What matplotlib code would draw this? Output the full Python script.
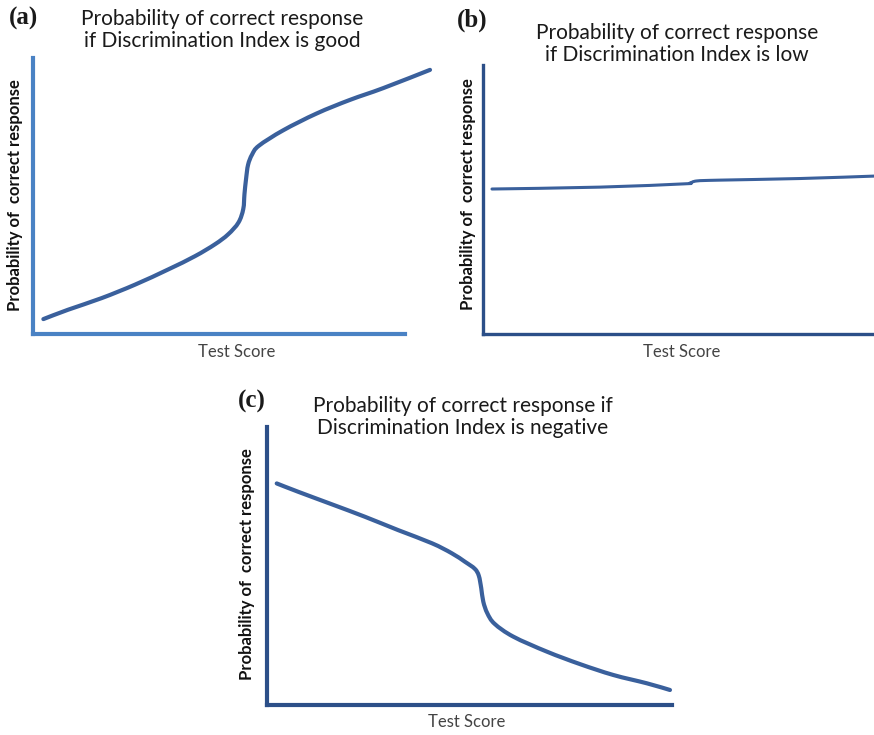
import matplotlib
matplotlib.use("Agg")
import matplotlib.pyplot as plt
from matplotlib.path import Path
from matplotlib.patches import PathPatch

W, H = 874, 735

# (a) good discrimination: test score (0-100) vs probability (0-1)
score_good = [2.6, 8.8, 17.2, 25.6, 33.9, 40.6, 45.6, 48.9, 51.5, 52.7, 53.0, 53.4,
              53.9, 54.9, 56.6, 62.7, 71.1, 79.4, 87.8, 99.5]
prob_good = [0.054, 0.088, 0.130, 0.179, 0.234, 0.282, 0.325, 0.361, 0.404, 0.453, 0.507, 0.562,
             0.613, 0.650, 0.682, 0.738, 0.799, 0.848, 0.891, 0.957]

# (b) low discrimination
score_low = [2.3, 29.9, 51.2, 52.9, 54.7, 60.6, 81.1, 100.0]
prob_low = [0.539, 0.546, 0.558, 0.561, 0.569, 0.572, 0.578, 0.587]

# (c) negative discrimination
score_neg = [2.4, 7.7, 16.0, 24.2, 32.4, 40.7, 45.6, 48.9, 51.3, 52.3, 52.9, 53.4,
             54.4, 56.2, 60.8, 69.1, 77.3, 85.5, 93.8, 99.5]
prob_neg = [0.797, 0.767, 0.722, 0.677, 0.629, 0.582, 0.546, 0.515, 0.490, 0.465, 0.420, 0.372,
            0.330, 0.292, 0.246, 0.192, 0.147, 0.108, 0.078, 0.054]

titles = ["Probability of correct response\nif Discrimination Index is good",
          "Probability of correct response\nif Discrimination Index is low",
          "Probability of correct response if\nDiscrimination Index is negative"]
tags = ["(a)", "(b)", "(c)"]
ylabel = "Probability of  correct response"
xlabel = "Test Score"

CURVE = "#3a609c"
SANS = "Lato"


def fx(px):
    return px / W


def fy(py):
    return 1 - py / H


def smooth_path(xs, ys):
    """Catmull-Rom through the points, as cubic Bezier segments."""
    pts = list(zip(xs, ys))
    verts = [pts[0]]
    codes = [Path.MOVETO]
    n = len(pts)
    for i in range(n - 1):
        p0 = pts[max(i - 1, 0)]
        p1 = pts[i]
        p2 = pts[i + 1]
        p3 = pts[min(i + 2, n - 1)]
        c1 = (p1[0] + (p2[0] - p0[0]) / 6, p1[1] + (p2[1] - p0[1]) / 6)
        c2 = (p2[0] - (p3[0] - p1[0]) / 6, p2[1] - (p3[1] - p1[1]) / 6)
        verts += [c1, c2, p2]
        codes += [Path.CURVE4] * 3
    return Path(verts, codes)


def draw_curve(ax, xs, ys, lw):
    patch = PathPatch(smooth_path(xs, ys), fill=False, edgecolor=CURVE, lw=lw,
                      capstyle="round", joinstyle="round", clip_on=False)
    ax.add_patch(patch)


def make_axes(fig, left, right, top, bottom, axis_color, axis_lw, xspine_end=100):
    ax = fig.add_axes([fx(left), fy(bottom), (right - left) / W, (bottom - top) / H])
    ax.set_xlim(0, 100)
    ax.set_ylim(0, 1)
    for s in ("top", "right"):
        ax.spines[s].set_visible(False)
    for s in ("left", "bottom"):
        ax.spines[s].set_color(axis_color)
        ax.spines[s].set_linewidth(axis_lw)
        ax.spines[s].set_capstyle("projecting")
    ax.spines["bottom"].set_bounds(0, xspine_end)
    ax.set_xticks([])
    ax.set_yticks([])
    ax.patch.set_alpha(0)
    return ax


fig = plt.figure(figsize=(W / 100, H / 100), dpi=100)

ax_a = make_axes(fig, 33, 432, 58, 334, "#4a82c4", 3.0, xspine_end=(405 - 33) / 399 * 100)
draw_curve(ax_a, score_good, prob_good, 3.0)

ax_b = make_axes(fig, 483, 874, 65, 334, "#2c4f88", 2.4)
draw_curve(ax_b, score_low, prob_low, 2.2)

ax_c = make_axes(fig, 267, 672, 427, 705, "#2c4f88", 3.0)
draw_curve(ax_c, score_neg, prob_neg, 3.0)

# titles
fig.text(fx(222), fy(30), titles[0], ha="center", va="center", fontsize=15,
         family=SANS, color="#1a1a1a", linespacing=1.15)
fig.text(fx(677), fy(44), titles[1], ha="center", va="center", fontsize=15,
         family=SANS, color="#1a1a1a", linespacing=1.15)
fig.text(fx(463), fy(417), titles[2], ha="center", va="center", fontsize=15,
         family=SANS, color="#1a1a1a", linespacing=1.15)

# panel tags
for (x, y), t in zip([(24, 18), (472, 20), (252, 401)], tags):
    fig.text(fx(x), fy(y), t, ha="center", va="center", fontsize=18,
             family="Liberation Serif", weight="bold", color="#1a1a1a")

# y labels
for (x, y) in [(15, 195), (468, 194), (247, 564)]:
    fig.text(fx(x), fy(y), ylabel, ha="center", va="center", rotation=90,
             fontsize=12, family=SANS, weight="bold", color="#111111")

# x labels
for (x, y) in [(237, 352), (682, 352), (467, 722)]:
    fig.text(fx(x), fy(y), xlabel, ha="center", va="center", fontsize=12,
             family=SANS, color="#444444")

fig.savefig("out.png", dpi=100)
